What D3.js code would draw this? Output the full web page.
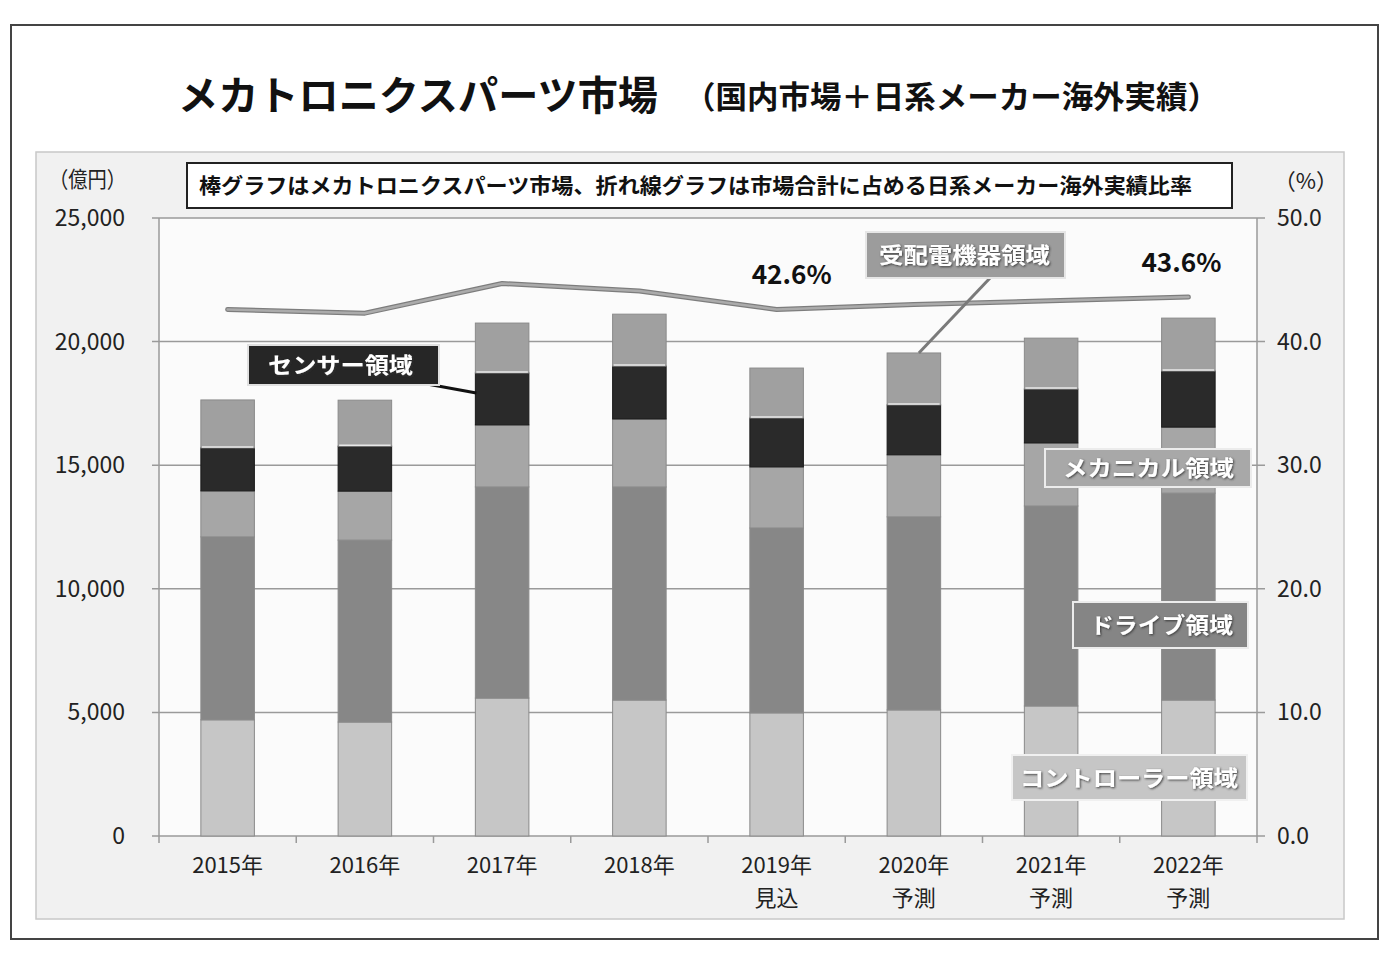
<!DOCTYPE html>
<html><head><meta charset="utf-8">
<script src="https://cdn.jsdelivr.net/npm/d3@7"></script>
<style>
html,body{margin:0;padding:0;background:#fff;}
svg{display:block;}
text{font-family:"Noto Sans CJK JP","Noto Sans",sans-serif;}
</style></head>
<body>
<svg id="chart" width="1393" height="959"></svg>
<script>
// ---- data ----
const years = ["2015年","2016年","2017年","2018年","2019年","2020年","2021年","2022年"];
const yearNotes = ["","","","","見込","予測","予測","予測"];
const controller = [4700, 4610, 5580, 5500, 4980, 5100, 5260, 5500];
const drive      = [7400, 7360, 8540, 8620, 7480, 7810, 8090, 8370];
const mechanical = [1860, 1980, 2510, 2750, 2470, 2510, 2550, 2670];
const sensor     = [1740, 1820, 2100, 2140, 1980, 2020, 2180, 2270];
const receiving  = [1940, 1860, 2020, 2100, 2020, 2100, 2060, 2140];
const ratio      = [42.6, 42.3, 44.7, 44.1, 42.6, 43.0, 43.3, 43.6];
const leftTicks  = [0, 5000, 10000, 15000, 20000, 25000];
const rightTicks = [0, 10, 20, 30, 40, 50];
const seriesNames = ["コントローラー領域","ドライブ領域","メカニカル領域","センサー領域","受配電機器領域"];
const seriesColors = ["#c6c6c6","#878787","#a6a6a6","#2a2a2a","#a0a0a0"];
const titleMain = "メカトロニクスパーツ市場";
const titleSub = "（国内市場＋日系メーカー海外実績）";
const noteText = "棒グラフはメカトロニクスパーツ市場、折れ線グラフは市場合計に占める日系メーカー海外実績比率";

const svg = d3.select("#chart");
const defs = svg.append("defs");
const sh = defs.append("filter").attr("id","shadow").attr("x","-10%").attr("y","-20%").attr("width","120%").attr("height","140%");
sh.append("feDropShadow").attr("dx",1).attr("dy",1).attr("stdDeviation",0.8).attr("flood-color","#333").attr("flood-opacity",0.9);

// outer frame
svg.append("rect").attr("x",11).attr("y",25).attr("width",1367).attr("height",914)
  .attr("fill","#fff").attr("stroke","#444").attr("stroke-width",2);

// title
svg.append("text").attr("x",178).attr("y",110).attr("font-size",40).attr("font-weight","bold")
  .attr("textLength",480).attr("lengthAdjust","spacingAndGlyphs").attr("fill","#111").text(titleMain);
svg.append("text").attr("x",684).attr("y",108).attr("font-size",31).attr("font-weight","bold")
  .attr("textLength",535).attr("lengthAdjust","spacingAndGlyphs").attr("fill","#111").text(titleSub);

// chart area
svg.append("rect").attr("x",36).attr("y",152).attr("width",1308).attr("height",767)
  .attr("fill","#f1f1f1").attr("stroke","#c8c8c8").attr("stroke-width",1.5);

const m = {l:159, r:1257, t:218, b:836};
svg.append("rect").attr("x",m.l).attr("y",m.t).attr("width",m.r-m.l).attr("height",m.b-m.t).attr("fill","#fbfbfb");

const x = d3.scaleBand().domain(years).range([m.l,m.r]).paddingInner(0.61).paddingOuter(0.305);
const xc = d3.scalePoint().domain(years).range([m.l,m.r]).padding(0.5);
const y = d3.scaleLinear().domain([0,25000]).range([m.b,m.t]);
const y2 = d3.scaleLinear().domain([0,50]).range([m.b,m.t]);

// grid lines
svg.append("g").selectAll("line").data(leftTicks.slice(1)).join("line")
  .attr("x1",m.l-7).attr("x2",m.r+8).attr("y1",d=>y(d)).attr("y2",d=>y(d))
  .attr("stroke","#9a9a9a").attr("stroke-width",1.5);
// axes lines
svg.append("line").attr("x1",m.l).attr("x2",m.l).attr("y1",m.t).attr("y2",m.b).attr("stroke","#9a9a9a").attr("stroke-width",1.5);
svg.append("line").attr("x1",m.r).attr("x2",m.r).attr("y1",m.t).attr("y2",m.b).attr("stroke","#9a9a9a").attr("stroke-width",1.5);
svg.append("line").attr("x1",m.l-7).attr("x2",m.r+8).attr("y1",m.b).attr("y2",m.b).attr("stroke","#9a9a9a").attr("stroke-width",1.5);
const step = (m.r-m.l)/years.length;
svg.append("g").selectAll("line").data(d3.range(years.length+1)).join("line")
  .attr("x1",i=>m.l+i*step).attr("x2",i=>m.l+i*step).attr("y1",m.b).attr("y2",m.b+7)
  .attr("stroke","#9a9a9a").attr("stroke-width",1.5);

// tick labels
svg.append("g").selectAll("text").data(leftTicks).join("text")
  .attr("x",125).attr("y",d=>y(d)+8).attr("text-anchor","end").attr("font-size",23).attr("fill","#222")
  .text(d=>d3.format(",")(d));
svg.append("g").selectAll("text").data(rightTicks).join("text")
  .attr("x",1277).attr("y",d=>y2(d)+8).attr("text-anchor","start").attr("font-size",23).attr("fill","#222")
  .text(d=>d.toFixed(1));
svg.append("text").attr("x",49).attr("y",187).attr("font-size",22).attr("fill","#222")
  .attr("textLength",77).attr("lengthAdjust","spacingAndGlyphs").text("（億円）");
svg.append("text").attr("x",1338).attr("y",189).attr("text-anchor","end").attr("font-size",22).attr("fill","#222").text("（%）");

// x labels
const xl = svg.append("g");
xl.selectAll("text.yr").data(years).join("text").attr("class","yr")
  .attr("x",d=>xc(d)).attr("y",873).attr("text-anchor","middle").attr("font-size",22).attr("fill","#222").text(d=>d);
xl.selectAll("text.nt").data(years).join("text").attr("class","nt")
  .attr("x",d=>xc(d)).attr("y",906).attr("text-anchor","middle").attr("font-size",22).attr("fill","#222").text((d,i)=>yearNotes[i]);

// stacked bars
const seriesData = [controller, drive, mechanical, sensor, receiving];
const rows = years.map((yr,i)=>{const o={year:yr}; seriesNames.forEach((n,k)=>o[n]=seriesData[k][i]); return o;});
const stack = d3.stack().keys(seriesNames)(rows);
const bars = svg.append("g");
stack.forEach((layer,k)=>{
  bars.append("g").selectAll("rect").data(layer).join("rect")
    .attr("x",d=>x(d.data.year)).attr("width",x.bandwidth())
    .attr("y",d=>y(d[1])).attr("height",d=>y(d[0])-y(d[1]))
    .attr("fill",seriesColors[k]).attr("stroke",k===3?"#1a1a1a":"#8a8a8a").attr("stroke-width",1);
});
bars.append("g").selectAll("line").data(stack[3]).join("line")
  .attr("x1",d=>x(d.data.year)+1).attr("x2",d=>x(d.data.year)+x.bandwidth()-1)
  .attr("y1",d=>y(d[1])-1).attr("y2",d=>y(d[1])-1).attr("stroke","#e8e8e8").attr("stroke-width",1.5);

// ratio line
const line = d3.line().x((d,i)=>xc(years[i])).y(d=>y2(d));
svg.append("path").datum(ratio).attr("d",line).attr("fill","none").attr("stroke","#7d7d7d").attr("stroke-width",5).attr("stroke-linejoin","round").attr("stroke-linecap","round");
svg.append("path").datum(ratio).attr("d",line).attr("fill","none").attr("stroke","#ababab").attr("stroke-width",2.5).attr("stroke-linejoin","round").attr("stroke-linecap","round");

// ratio labels
[[4,"42.6%",15,25],[7,"43.6%",-7,25]].forEach(([i,t,dx,dy])=>{
  svg.append("text").attr("x",xc(years[i])+dx).attr("y",y2(ratio[i])-dy).attr("text-anchor","middle")
    .attr("font-size",26).attr("font-weight","bold").attr("fill","#111")
    .attr("textLength",80).attr("lengthAdjust","spacingAndGlyphs").text(t);
});

// note box
svg.append("rect").attr("x",187).attr("y",163).attr("width",1045).attr("height",45).attr("fill","#fff").attr("stroke","#222").attr("stroke-width",2);
svg.append("text").attr("x",199).attr("y",193).attr("font-size",21).attr("font-weight","bold").attr("fill","#111")
  .attr("textLength",993).attr("lengthAdjust","spacingAndGlyphs").text(noteText);

// callout labels
function callout(bx,by,bw,bh,fill,stroke,label,tx,tlen){
  svg.append("rect").attr("x",bx).attr("y",by).attr("width",bw).attr("height",bh)
    .attr("fill",fill).attr("stroke",stroke).attr("stroke-width",2);
  svg.append("text").attr("x",tx).attr("y",by+bh/2+8).attr("font-size",22).attr("font-weight","bold")
    .attr("fill","#fff").attr("filter","url(#shadow)")
    .attr("textLength",tlen).attr("lengthAdjust","spacingAndGlyphs").text(label);
}
const s17 = stack[3][2];
svg.append("polyline").attr("points",`${427},${384} ${x(years[2])+1},${(y(s17[0])+y(s17[1]))/2-6}`)
  .attr("fill","none").attr("stroke","#111").attr("stroke-width",3);
callout(248,345,191,40,"#262626","#e0e0e0",seriesNames[3],268,145);
const r20 = stack[4][5];
svg.append("line").attr("x1",991).attr("y1",277).attr("x2",xc(years[5])+5).attr("y2",y(r20[1]))
  .attr("stroke","#7a7a7a").attr("stroke-width",3);
callout(866,232,199,46,"#9c9c9c","#e6e6e6",seriesNames[4],879,171);
callout(1045,449,206,38,"#a8a8a8","#ececec",seriesNames[2],1063,171);
callout(1073,602,175,46,"#858585","#ececec",seriesNames[1],1090,143);
callout(1012,755,235,45,"#c6c6c6","#f0f0f0",seriesNames[0],1020,218);
</script>
</body></html>
